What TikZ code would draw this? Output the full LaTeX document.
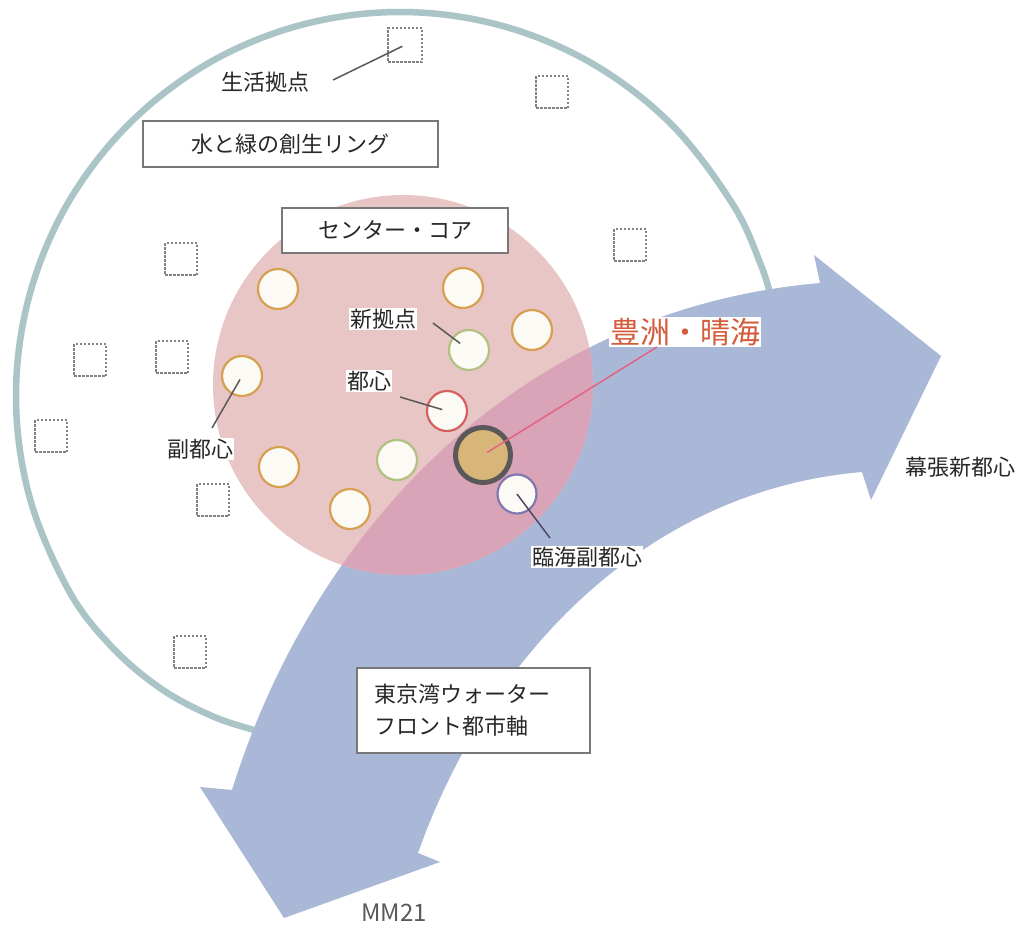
\documentclass[tikz,border=0pt]{standalone}
\usepackage{fontspec}
\setmainfont{Noto Sans CJK JP}
\definecolor{ringc}{RGB}{170,196,200}
\definecolor{arrowc}{RGB}{169,184,214}
\definecolor{pinkc}{RGB}{232,198,198}
\definecolor{mauvec}{RGB}{218,164,184}
\definecolor{tanc}{RGB}{214,160,80}
\definecolor{greenc}{RGB}{178,192,130}
\definecolor{redc}{RGB}{214,96,96}
\definecolor{purpc}{RGB}{130,120,175}
\definecolor{corec}{RGB}{216,182,122}
\definecolor{corebd}{RGB}{90,88,88}
\definecolor{labelred}{RGB}{210,92,60}
\definecolor{leadred}{RGB}{225,100,130}
\definecolor{boxc}{RGB}{120,120,120}
\definecolor{txtc}{RGB}{40,40,40}
\definecolor{sqc}{RGB}{130,130,130}
\definecolor{hubfill}{RGB}{252,250,244}
\begin{document}
\begin{tikzpicture}[x=1pt,y=-1pt,
  ring/.style={draw=ringc,line width=6.5pt,line cap=round},
  hub/.style={circle,draw=tanc,line width=2.2pt,fill=hubfill,minimum size=40pt,inner sep=0pt},
  sqbox/.style={draw=sqc,line width=1.4pt,dash pattern=on 2.5pt off 1.5pt,minimum size=32pt,inner sep=0pt},
  lbl/.style={font=\fontsize{22}{26}\selectfont,text=txtc,fill=white,inner sep=1pt},
  tbox/.style={draw=boxc,line width=1.6pt,fill=white,font=\fontsize{22}{32}\selectfont,text=txtc,inner sep=0pt},
  leader/.style={draw=corebd,line width=1.5pt}]
\useasboundingbox (0,0) rectangle (1023,927);
\fill[white] (0,0) rectangle (1023,927);
% ring
\draw[ring] plot[smooth,tension=0.6] coordinates {(775.6,316.2) (772.6,303.1) (760.8,264.7) (732.6,204) (671.5,124.5) (592,63.4) (499.4,25.1) (400,12) (300.6,25.1) (208,63.4) (128.5,124.5) (67.4,204) (29.1,296.6) (16,396) (29.1,495.4) (67.4,588) (110,645) (160,688) (212,716) (260,732) (292,743)};
% arrow
\def\arrowpath{(820,283) -- (814,255) -- (941,356) -- (871,500) -- (862,472) .. controls (650,490) and (490,650) .. (418,853) -- (440,862) -- (284,918) -- (200,787) -- (232,790) .. controls (310,540) and (510,310) .. (820,283) -- cycle}
\fill[arrowc] \arrowpath;
% center core disk
\fill[pinkc] (403,385) circle[radius=190];
\begin{scope}
\clip (403,385) circle[radius=190];
\fill[mauvec] \arrowpath;
\end{scope}
% squares
\node[sqbox,minimum size=34pt] (sq1) at (405,45) {};
\node[sqbox] (sq2) at (552,92) {};
\node[sqbox] (sq3) at (630,245) {};
\node[sqbox] (sq4) at (181,259) {};
\node[sqbox] (sq5) at (90,360) {};
\node[sqbox] (sq6) at (172,357) {};
\node[sqbox] (sq7) at (51,436) {};
\node[sqbox] (sq8) at (213,500) {};
\node[sqbox] (sq9) at (190,652) {};
% hubs
\node[hub] (c1) at (278,289) {};
\node[hub] (c2) at (463,288) {};
\node[hub] (c3) at (532,330) {};
\node[hub,draw=greenc] (c4) at (469,350) {};
\node[hub] (c5) at (242,376) {};
\node[hub,draw=redc] (c6) at (447,411) {};
\node[hub,draw=purpc,minimum size=39pt] (c8) at (517,494) {};
\node[hub] (c9) at (279,467) {};
\node[hub,draw=greenc] (c10) at (397,460) {};
\node[hub] (c11) at (350,509) {};
\node[circle,draw=corebd,line width=5pt,fill=corec,minimum size=55pt,inner sep=0pt] (core) at (483,455) {};
% text boxes
\node[tbox,minimum width=295pt,minimum height=46pt] (bring) at (290.5,144) {水と緑の創生リング};
\node[tbox,minimum width=226pt,minimum height=45pt] (bcore) at (395,230.5) {センター・コア};
\node[tbox,text width=199pt,inner xsep=17pt,minimum height=85pt,align=left] (baxis) at (473.5,710.5) {東京湾ウォーター\\フロント都市軸};
% labels
\node[lbl] (lseik) at (265,82) {生活拠点};
\node[lbl] (lshin) at (383,319) {新拠点};
\node[lbl] (ltoshin) at (369,381) {都心};
\node[lbl] (lfuku) at (200,449) {副都心};
\node[lbl] (lrinkai) at (587,557) {臨海副都心};
\node[lbl,fill=none] (lmaku) at (960,467) {幕張新都心};
\node[lbl,font=\fontsize{30}{34}\selectfont,text=labelred] (ltoyo) at (685,332) {豊洲・晴海};
\node[font=\fontsize{24}{28}\selectfont,text=black!65] (lmm) at (394,913) {MM21};
% leaders
\coordinate (sseik) at (333,80);
\coordinate (sshin) at (433,323);
\coordinate (stoshin) at (400,397);
\coordinate (sfuku) at (212,428);
\coordinate (srinkai) at (550,538);
\coordinate (stoyo) at (657,347);
\draw[leader,shorten >=3pt] (sseik) -- (sq1.center);
\draw[leader,shorten >=11pt] (sshin) -- (c4.center);
\draw[leader,shorten >=5pt] (stoshin) -- (c6.center);
\draw[leader,shorten >=4pt] (sfuku) -- (c5.center);
\draw[leader,draw=purpc!60!black] (c8.center) -- (srinkai);
\draw[leader,draw=leadred,shorten >=5pt] (stoyo) -- (core.center);
\end{tikzpicture}
\end{document}
